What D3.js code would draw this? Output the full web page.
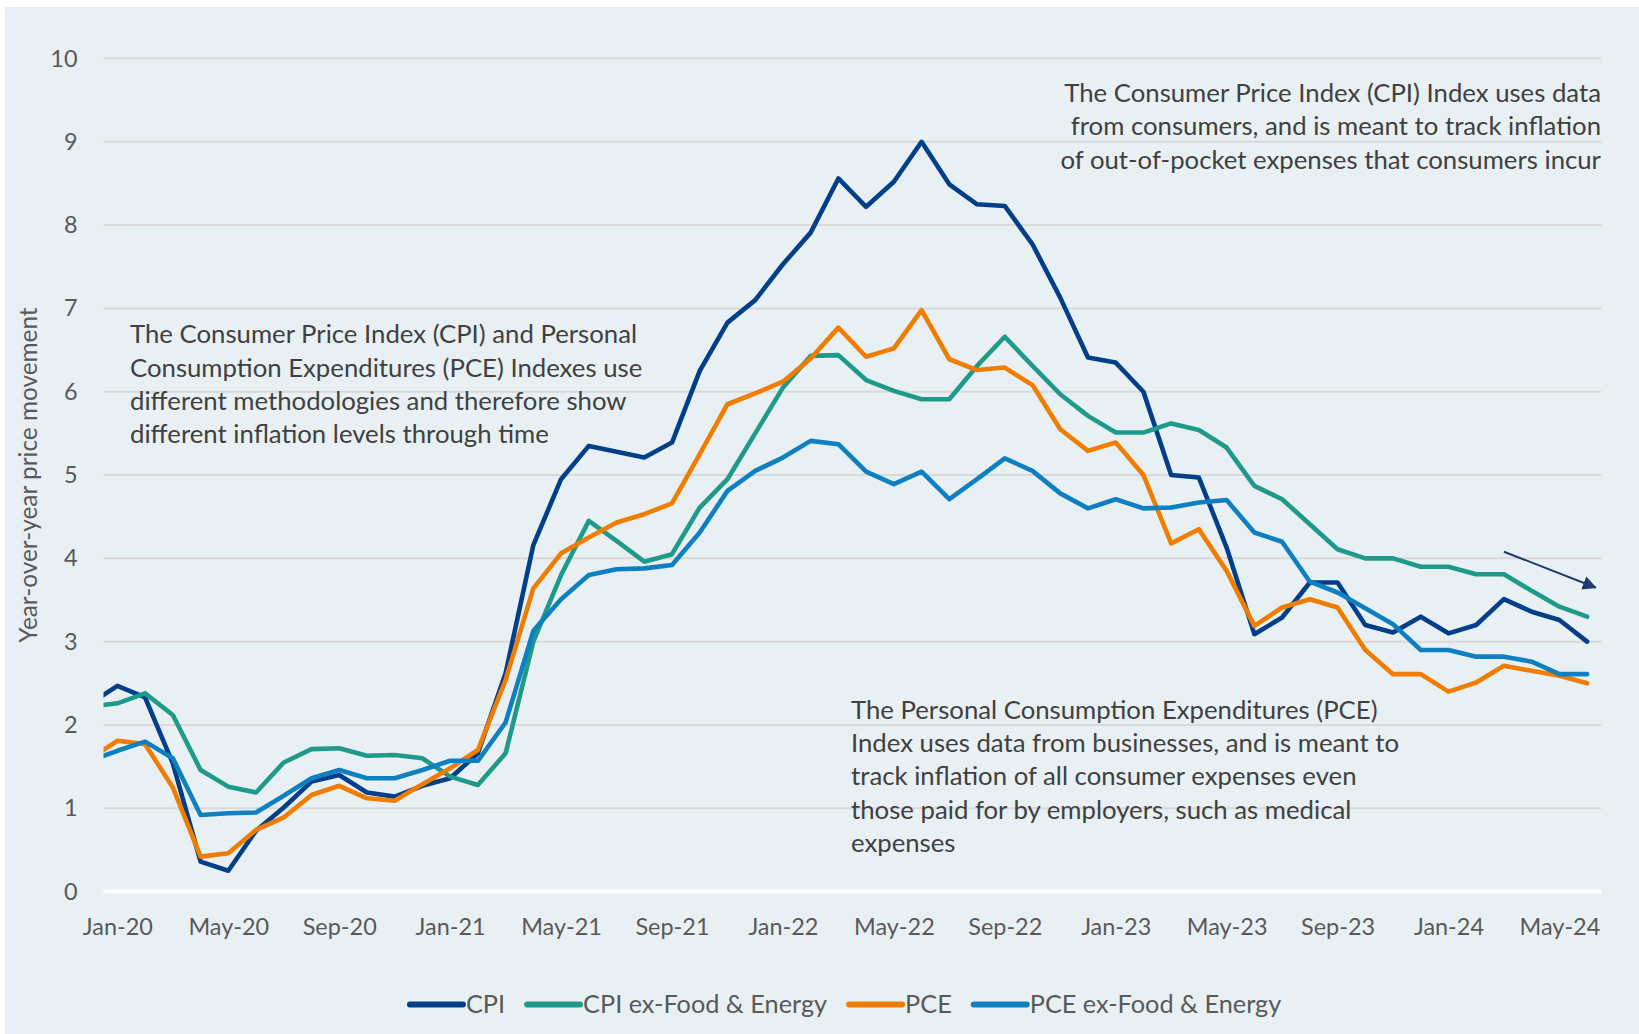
<!DOCTYPE html>
<html>

<head>
    <meta charset="utf-8">
    <style>
        body {
            margin: 0;
            background: #fff;
        }

        svg {
            display: block;
        }

        text {
            font-family: Lato, 'Open Sans', sans-serif;
        }
    </style>
</head>

<body>
    <svg width="1639" height="1034"></svg>

    <script src="https://d3js.org/d3.v7.min.js"></script>

    <script>
        // one label per monthly point; Dec-19 only feeds the clipped stub at the left edge
        const months = [
            "Dec-19",
            "Jan-20", "Feb-20", "Mar-20", "Apr-20", "May-20", "Jun-20", "Jul-20", "Aug-20", "Sep-20", "Oct-20", "Nov-20", "Dec-20",
            "Jan-21", "Feb-21", "Mar-21", "Apr-21", "May-21", "Jun-21", "Jul-21", "Aug-21", "Sep-21", "Oct-21", "Nov-21", "Dec-21",
            "Jan-22", "Feb-22", "Mar-22", "Apr-22", "May-22", "Jun-22", "Jul-22", "Aug-22", "Sep-22", "Oct-22", "Nov-22", "Dec-22",
            "Jan-23", "Feb-23", "Mar-23", "Apr-23", "May-23", "Jun-23", "Jul-23", "Aug-23", "Sep-23", "Oct-23", "Nov-23", "Dec-23",
            "Jan-24", "Feb-24", "Mar-24", "Apr-24", "May-24", "Jun-24"
        ];

        const cpi = [
            2.25,
            2.47, 2.33, 1.54, 0.36, 0.25, 0.73, 1.01, 1.32, 1.40, 1.19, 1.14, 1.27,
            1.36, 1.66, 2.62, 4.16, 4.95, 5.35, 5.28, 5.21, 5.39, 6.25, 6.83, 7.10,
            7.53, 7.91, 8.56, 8.22, 8.52, 9.00, 8.49, 8.25, 8.23, 7.77, 7.13, 6.41,
            6.35, 6.00, 5.00, 4.97, 4.13, 3.09, 3.29, 3.71, 3.71, 3.20, 3.11, 3.30,
            3.10, 3.20, 3.51, 3.36, 3.26, 3.00
        ];

        const cpiCore = [
            2.22,
            2.26, 2.38, 2.12, 1.46, 1.26, 1.19, 1.55, 1.71, 1.72, 1.63, 1.64, 1.60,
            1.38, 1.28, 1.66, 3.00, 3.80, 4.45, 4.21, 3.96, 4.05, 4.61, 4.95, 5.50,
            6.05, 6.43, 6.44, 6.14, 6.01, 5.91, 5.91, 6.31, 6.66, 6.31, 5.97, 5.71,
            5.51, 5.51, 5.62, 5.54, 5.33, 4.87, 4.71, 4.41, 4.11, 4.00, 4.00, 3.90,
            3.90, 3.81, 3.81, 3.61, 3.42, 3.30
        ];

        const pce = [
            1.59,
            1.81, 1.77, 1.25, 0.42, 0.46, 0.74, 0.89, 1.16, 1.27, 1.12, 1.09, 1.29,
            1.48, 1.70, 2.54, 3.64, 4.06, 4.25, 4.43, 4.53, 4.66, 5.25, 5.85, 5.98,
            6.12, 6.40, 6.77, 6.42, 6.52, 6.98, 6.39, 6.26, 6.29, 6.08, 5.55, 5.29,
            5.39, 5.00, 4.18, 4.35, 3.85, 3.19, 3.41, 3.51, 3.41, 2.90, 2.61, 2.61,
            2.40, 2.51, 2.71, 2.65, 2.59, 2.50
        ];

        const pceCore = [
            1.57,
            1.69, 1.80, 1.60, 0.92, 0.94, 0.95, 1.15, 1.36, 1.46, 1.36, 1.36, 1.46,
            1.57, 1.57, 2.03, 3.13, 3.51, 3.80, 3.87, 3.88, 3.92, 4.31, 4.81, 5.05,
            5.21, 5.41, 5.37, 5.04, 4.89, 5.04, 4.71, 4.95, 5.20, 5.05, 4.78, 4.60,
            4.71, 4.60, 4.61, 4.67, 4.70, 4.31, 4.20, 3.72, 3.59, 3.40, 3.21, 2.90,
            2.90, 2.82, 2.82, 2.76, 2.61, 2.61
        ];

        const xTicks = ["Jan-20", "May-20", "Sep-20", "Jan-21", "May-21", "Sep-21", "Jan-22",
            "May-22", "Sep-22", "Jan-23", "May-23", "Sep-23", "Jan-24", "May-24"];
        const yTicks = [0, 1, 2, 3, 4, 5, 6, 7, 8, 9, 10];

        const seriesNames = ["CPI", "CPI ex-Food & Energy", "PCE", "PCE ex-Food & Energy"];
        const seriesColors = ["#033F88", "#1F9A8A", "#F07C00", "#0E80C1"];

        const notes = [{
            x: 130, y: 334.5, anchor: "start",
            lines: ["The Consumer Price Index (CPI) and Personal",
                "Consumption Expenditures (PCE) Indexes use",
                "different methodologies and therefore show",
                "different inflation levels through time"]
        }, {
            x: 1601, y: 93, anchor: "end",
            lines: ["The Consumer Price Index (CPI) Index uses data",
                "from consumers, and is meant to track inflation",
                "of out-of-pocket expenses that consumers incur"]
        }, {
            x: 851, y: 709.8, anchor: "start",
            lines: ["The Personal Consumption Expenditures (PCE)",
                "Index uses data from businesses, and is meant to",
                "track inflation of all consumer expenses even",
                "those paid for by employers, such as medical",
                "expenses"]
        }];

        drawChart();

        function drawChart() {
            let svg = d3.select("svg");

            // Calibri isn't installed, so scale the stand-in font off one measured line
            let probe = svg.append("text")
                .style("font-size", "100px")
                .text("The Consumer Price Index (CPI) Index uses data");
            let k = 537 / probe.node().getComputedTextLength() * 100 / 28;
            probe.remove();
            let fs = px => px * k;

            let plotLeft = 103.5, plotRight = 1601, plotTop = 58.5, plotBottom = 891.6;

            let x = d3.scaleLinear()
                .domain([0.5, months.length - 0.5])
                .range([plotLeft, plotRight]);

            let y = d3.scaleLinear()
                .domain([0, 10])
                .range([plotBottom, plotTop]);

            // panel
            svg.append("rect")
                .attr("x", 5)
                .attr("y", 7)
                .attr("width", 1639 - 5)
                .attr("height", 1034 - 7)
                .style("fill", "#E8F0F3");

            // gridlines
            svg.append("g")
                .selectAll("line")
                .data(yTicks)
                .join("line")
                .attr("x1", plotLeft)
                .attr("x2", plotRight)
                .attr("y1", d => y(d))
                .attr("y2", d => y(d))
                .style("stroke", d => d === 0 ? "#fff" : "#D9D9D9")
                .style("stroke-width", d => d === 0 ? 4 : 2);

            // axes (labels only)
            let yAxis = svg.append("g")
                .attr("transform", `translate(${plotLeft},0)`)
                .call(d3.axisLeft(y).tickValues(yTicks).tickSize(0).tickPadding(26));

            let xAxis = svg.append("g")
                .attr("transform", `translate(0,${plotBottom})`)
                .call(d3.axisBottom(x)
                    .tickValues(xTicks.map(m => months.indexOf(m)))
                    .tickFormat(i => months[i])
                    .tickSize(0)
                    .tickPadding(27));

            [yAxis, xAxis].forEach(g => {
                g.select(".domain").remove();
                g.selectAll("text")
                    .style("font-family", "Lato, 'Open Sans', sans-serif")
                    .style("font-size", fs(25.5) + "px")
                    .style("fill", "#595959");
            });

            svg.append("text")
                .attr("transform", `translate(28,${(plotTop + plotBottom) / 2}) rotate(-90)`)
                .attr("text-anchor", "middle")
                .attr("dy", "0.35em")
                .style("font-size", fs(26.5) + "px")
                .style("fill", "#595959")
                .text("Year-over-year price movement");

            // lines
            svg.append("clipPath")
                .attr("id", "plot-clip")
                .append("rect")
                .attr("x", plotLeft)
                .attr("y", 0)
                .attr("width", plotRight - plotLeft)
                .attr("height", 1034);

            let line = d3.line()
                .x((d, i) => x(i))
                .y(d => y(d));

            svg.append("g")
                .attr("clip-path", "url(#plot-clip)")
                .selectAll("path")
                .data([cpi, cpiCore, pce, pceCore])
                .join("path")
                .attr("d", line)
                .style("fill", "none")
                .style("stroke", (d, i) => seriesColors[i])
                .style("stroke-width", 4.6)
                .style("stroke-linejoin", "round")
                .style("stroke-linecap", "round");

            // text boxes
            notes.forEach(n => {
                let size = fs(28);
                svg.append("g")
                    .selectAll("text")
                    .data(n.lines)
                    .join("text")
                    .attr("x", n.x)
                    .attr("y", (d, i) => n.y + i * 33.4 + size * 0.34)
                    .attr("text-anchor", n.anchor)
                    .style("font-size", size + "px")
                    .style("fill", "#404040")
                    .text(d => d);
            });

            // trend arrow
            svg.append("defs")
                .append("marker")
                .attr("id", "arrowhead")
                .attr("viewBox", "0 0 10 10")
                .attr("refX", 9)
                .attr("refY", 5)
                .attr("markerWidth", 7)
                .attr("markerHeight", 7)
                .attr("orient", "auto")
                .append("path")
                .attr("d", "M0,0 L10,5 L0,10 Z")
                .style("fill", "#1F3B6B");

            svg.append("line")
                .attr("x1", x(51.0))
                .attr("y1", y(4.08))
                .attr("x2", x(54.3))
                .attr("y2", y(3.65))
                .attr("marker-end", "url(#arrowhead)")
                .style("stroke", "#1F3B6B")
                .style("stroke-width", 2);

            // legend
            let legend = svg.append("g");
            let lx = 0;
            seriesNames.forEach((name, i) => {
                let item = legend.append("g").attr("transform", `translate(${lx},0)`);
                item.append("line")
                    .attr("x1", 0)
                    .attr("x2", 53)
                    .style("stroke", seriesColors[i])
                    .style("stroke-width", 6)
                    .style("stroke-linecap", "round");
                let t = item.append("text")
                    .attr("x", 56)
                    .attr("dy", "0.35em")
                    .style("font-size", fs(27.5) + "px")
                    .style("fill", "#595959")
                    .text(name);
                lx += 56 + t.node().getComputedTextLength() + 22;
            });
            let legendWidth = lx - 22;
            legend.attr("transform", `translate(${845.6 - legendWidth / 2},1004.6)`);
        }
    </script>
</body>

</html>
